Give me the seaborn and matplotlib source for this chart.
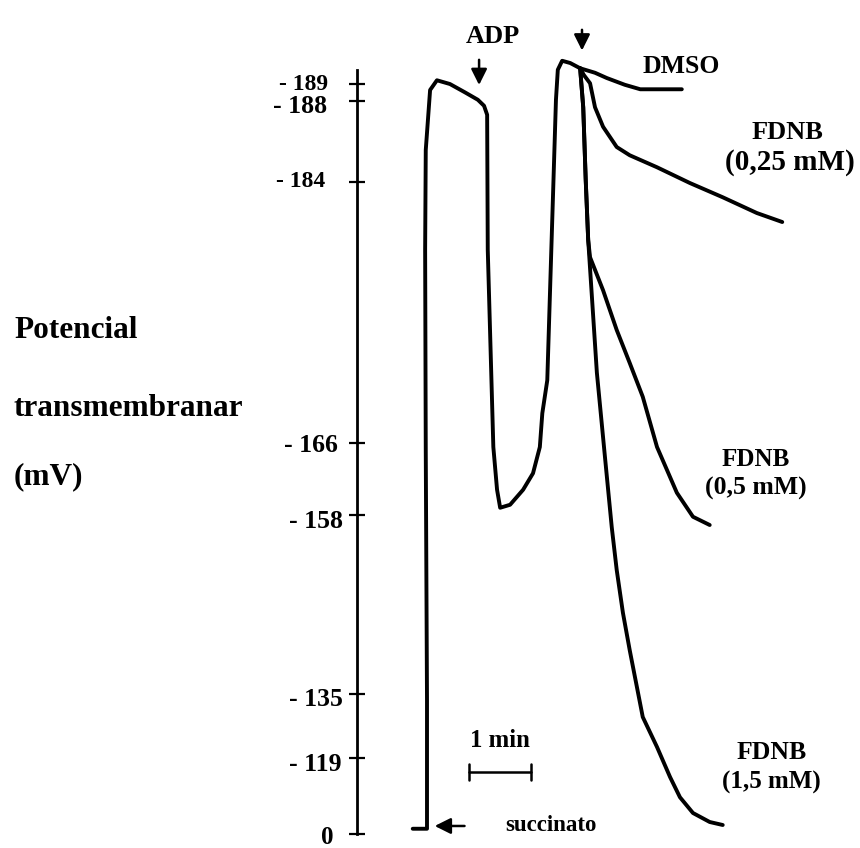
import numpy as np
import pandas as pd
import matplotlib.pyplot as plt
import seaborn as sns

# time in minutes (0 = succinate addition), y in recorder deflection units
main_t = [-0.23, 0.0, 0.0, -0.02, -0.03, -0.02, 0.05, 0.16, 0.37, 0.61, 0.82, 0.92, 0.97,
          0.98, 1.07, 1.13, 1.18, 1.34, 1.55, 1.71, 1.82, 1.86, 1.94, 1.98, 2.03, 2.08,
          2.11, 2.18, 2.31, 2.47]
main_u = [0.7, 0.7, 17.9, 51.2, 77.9, 91.2, 99.2, 100.5, 100.0, 98.9, 97.9, 97.1, 95.9,
          77.9, 51.6, 45.9, 43.5, 43.9, 45.9, 48.1, 51.6, 56.1, 60.5, 71.2, 84.5, 97.9,
          101.9, 103.1, 102.8, 102.1]

dmso_t = [2.47, 2.71, 2.90, 3.19, 3.44, 4.11]
dmso_u = [102.1, 101.5, 100.8, 99.9, 99.3, 99.3]

fdnb025_t = [2.47, 2.53, 2.63, 2.71, 2.84, 3.06, 3.27, 3.71, 4.24, 4.77, 5.32, 5.73]
fdnb025_u = [102.1, 101.2, 100.1, 96.9, 94.3, 91.6, 90.5, 88.9, 86.8, 84.9, 82.8, 81.6]

fdnb05_t = [2.47, 2.52, 2.56, 2.60, 2.63, 2.84, 3.06, 3.27, 3.48, 3.71, 4.03, 4.29, 4.56]
fdnb05_u = [102.1, 96.9, 87.2, 79.2, 76.9, 72.5, 67.2, 62.8, 58.3, 51.6, 45.5, 42.3, 41.2]

fdnb15_t = [2.47, 2.52, 2.56, 2.60, 2.74, 2.87, 2.98, 3.06, 3.16, 3.27, 3.48, 3.71, 3.92,
            4.08, 4.29, 4.56, 4.77]
fdnb15_u = [102.1, 96.9, 87.2, 79.2, 61.5, 50.3, 40.9, 35.2, 29.5, 24.5, 15.6, 11.6, 7.6,
            4.9, 2.8, 1.6, 1.2]

# potential scale (mV) and where each mark sits on the recorder scale
tick_u = [0, 10.1, 18.7, 42.5, 52.1, 86.9, 97.7, 100.0]
tick_labels = ['0', '- 119', '- 135', '- 158', '- 166', '- 184', '- 188', '- 189']

traces = {
    'main': (main_t, main_u),
    'DMSO': (dmso_t, dmso_u),
    'FDNB 0,25': (fdnb025_t, fdnb025_u),
    'FDNB 0,5': (fdnb05_t, fdnb05_u),
    'FDNB 1,5': (fdnb15_t, fdnb15_u),
}

sns.set_style('white')
plt.rcParams['font.family'] = ['Liberation Serif', 'DejaVu Serif']
plt.rcParams['font.weight'] = 'bold'
plt.rcParams['text.color'] = 'black'

fig = plt.figure(figsize=(8.6, 8.48), dpi=100)
ax = fig.add_axes([357 / 860, 14 / 848, 503 / 860, 764 / 848])

for name, (t, u) in traces.items():
    df = pd.DataFrame({'t': t, 'u': u})
    sns.lineplot(data=df, x='t', y='u', sort=False, estimator=None, color='black',
                 linewidth=2.8, ax=ax, clip_on=False)

ax.set_xlim(-1.129, 6.984)
ax.set_ylim(0, 101.87)
ax.set_xlabel('')
ax.set_ylabel('')
ax.set_xticks([])
ax.set_yticks(tick_u)
ax.set_yticklabels([])
ax.tick_params(axis='y', left=True, direction='inout', length=11, width=1.6,
               color='black')
for s in ['top', 'right', 'bottom']:
    ax.spines[s].set_visible(False)
ax.spines['left'].set_linewidth(2.0)
ax.spines['left'].set_color('black')

# tick labels, hand-placed like the original figure
label_dx = [-17, -11, -10, -10, -14, -23, -21.5, -21]
label_dy = [-2.5, -4.5, -4, -4.5, -1.5, 0.5, -4, 0]
label_fs = [18, 18.5, 18.5, 18.5, 18.5, 17, 18.5, 17]
for u, lab, dx, dy, fs in zip(tick_u, tick_labels, label_dx, label_dy, label_fs):
    ax.annotate(lab, xy=(0, u), xycoords=('axes fraction', 'data'), xytext=(dx, dy),
                textcoords='offset points', ha='right', va='center', fontsize=fs,
                annotation_clip=False)

arrow = dict(arrowstyle='-|>', color='black', lw=1.8, mutation_scale=24)
ax.annotate('', xy=(0.84, 99.5), xytext=(0.84, 103.6), arrowprops=arrow, annotation_clip=False)
ax.annotate('', xy=(2.50, 104.1), xytext=(2.50, 107.6), arrowprops=arrow, annotation_clip=False)
ax.annotate('', xy=(0.08, 1.07), xytext=(0.65, 1.07), arrowprops=arrow, annotation_clip=False)

ax.text(1.06, 106.3, 'ADP', ha='center', va='center', fontsize=19)
ax.text(3.47, 102.3, 'DMSO', ha='left', va='center', fontsize=18.5)
ax.text(5.82, 93.6, 'FDNB', ha='center', va='center', fontsize=19)
ax.text(5.85, 89.6, '(0,25 mM)', ha='center', va='center', fontsize=21)
ax.text(5.31, 49.9, 'FDNB', ha='center', va='center', fontsize=18)
ax.text(5.31, 46.1, '(0,5 mM)', ha='center', va='center', fontsize=18.5)
ax.text(5.56, 10.9, 'FDNB', ha='center', va='center', fontsize=18.5)
ax.text(5.56, 6.9, '(1,5 mM)', ha='center', va='center', fontsize=18)
ax.text(1.26, 1.07, 'succinato', ha='left', va='center', fontsize=16.5)

# 1 min scale bar
ax.plot([0.68, 1.68], [8.3, 8.3], color='black', lw=1.8)
ax.plot([0.68, 0.68], [7.2, 9.4], color='black', lw=1.8)
ax.plot([1.68, 1.68], [7.2, 9.4], color='black', lw=1.8)
ax.text(1.18, 12.5, '1 min', ha='center', va='center', fontsize=17.8)

fig.text(14 / 860, 1 - 330 / 848, 'Potencial', ha='left', va='center', fontsize=22.5)
fig.text(14 / 860, 1 - 408 / 848, 'transmembranar', ha='left', va='center', fontsize=22.5)
fig.text(14 / 860, 1 - 477 / 848, '(mV)', ha='left', va='center', fontsize=22.5)

plt.savefig('out.png', dpi=100)
plt.close()
